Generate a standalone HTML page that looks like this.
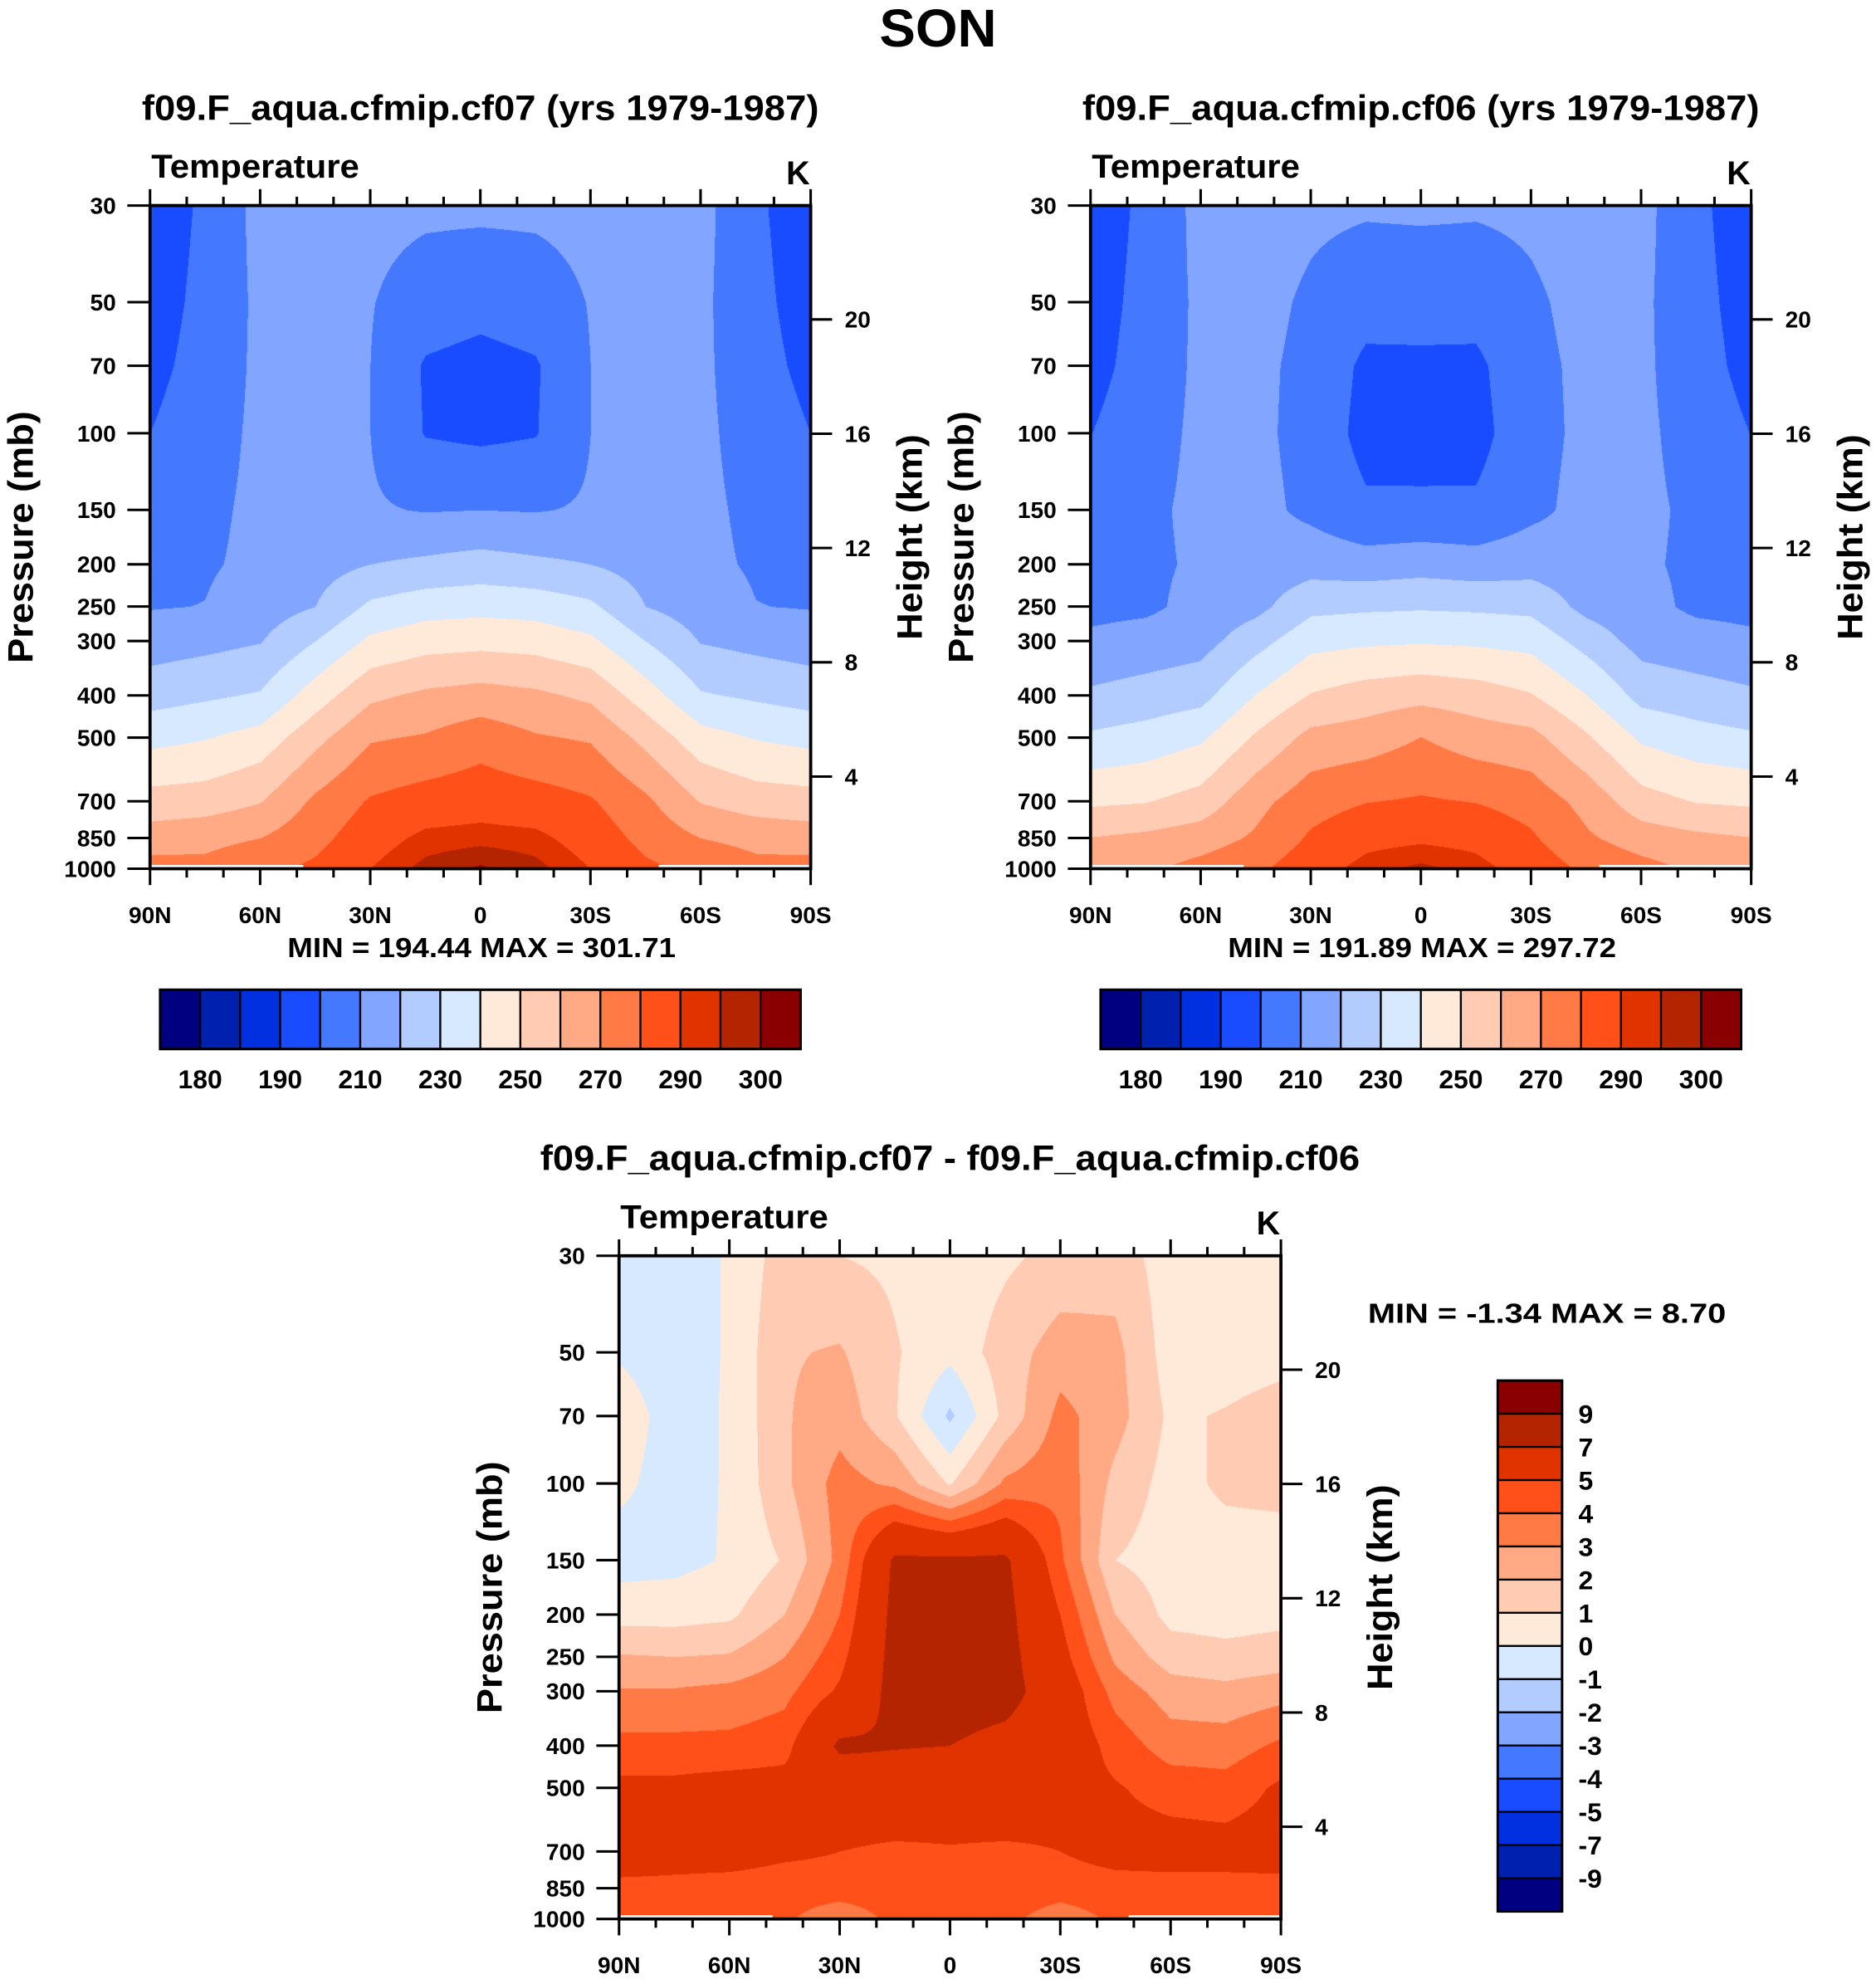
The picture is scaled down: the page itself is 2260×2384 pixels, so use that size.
<!DOCTYPE html>
<html><head><meta charset="utf-8">
<style>
html,body{margin:0;padding:0;background:#fff;}
#wrap{position:relative;width:2260px;height:2384px;overflow:hidden;}
svg{position:absolute;left:0;top:0;}
canvas{position:absolute;}
text{font-family:"Liberation Sans",sans-serif;font-weight:bold;fill:#000;}
</style></head>
<body>
<div id="wrap">
<canvas id="c1"></canvas>
<canvas id="c2"></canvas>
<canvas id="c3"></canvas>
<svg id="svg" width="2260" height="2384" viewBox="0 0 1488 1569.6"></svg>
</div>
<script>
// ---- data ----
const lats = [90,75,60,45,30,15,0,-15,-30,-45,-60,-75,-90];
const pressures = [30,50,70,100,150,200,250,300,400,500,700,850,1000];
const palette = ['#000080','#0020b0','#0030e0','#1a4cff','#4478ff','#82a6ff','#b3ccff','#d6e9ff','#ffeada','#ffcbb2','#ffa985','#ff7a45','#ff5019','#e03300','#b52400','#8a0000'];
const tempLevels = [180,185,190,200,210,220,230,240,250,260,270,280,290,295,300];
const tempLabels = ['180','190','210','230','250','270','290','300'];
const diffLevels = [-9,-7,-5,-4,-3,-2,-1,0,1,2,3,4,5,7,9];
const diffLabels = ['9','7','5','4','3','2','1','0','-1','-2','-3','-4','-5','-7','-9'];
const latTickLabels = ['90N','60N','30N','0','30S','60S','90S'];
const pTickLabels = [30,50,70,100,150,200,250,300,400,500,700,850,1000];
const hTickLabels = [4,8,12,16,20];
// rows: one per latitude (90N..90S), values per pressure level (30..1000 mb)
const tempCf07 = [
[193,195,197,200,204,207,209.5,215,226,237,254,265,274],
[202,203,204,206,208,209,210.2,217,228.5,239.5,255,267,273],
[213,212,212,212,212,212,215,219.5,231,244,259.5,270,278],
[216,215,214,214,214,216,220,230,245,257,272,277,282],
[213,210.5,210,210,211,220,232,242,258,269,281,286,290],
[212,205,199,199.5,209.5,222,236,246,262,271,284.5,292,297],
[212,203,197,198,210,224,237,247,264,276,286,293,301],
[212,205,199,199.5,209.5,222,236,246,262,271,284.5,292,297],
[213,210.5,210,210,211,220,232,242,258,269,281,286,290],
[216,215,214,214,214,216,220,230,245,257,272,277,282],
[213,212,212,212,212,212,215,219.5,231,244,259.5,270,278],
[202,203,204,206,208,209,210.2,217,228.5,239.5,255,267,273],
[193,195,197,200,204,207,209.5,215,226,237,254,265,274]];
const tempCf06 = [
[193.5,195.1,196.5,199.8,204.4,206.4,207.4,211.9,221.7,231.7,248.3,260.3,269.5],
[202.5,203.5,204.4,206.4,208.3,208.4,208.2,213.9,224.2,234.2,249.5,262.3,268.5],
[212.9,211.9,211.9,211.9,211.9,211.2,212.9,216.2,226.7,238.5,254,265.4,273.5],
[214.5,213.1,212.1,212.2,212.9,214,217,226.3,240.4,251.5,266.8,271.5,278.1],
[212,208.4,207.4,206.6,207.7,216,227.4,236.8,250.7,263.2,276,281.4,286.3],
[211.2,203.9,197.9,196.7,201.6,214.5,228.4,238.4,254.9,265,279.7,287.4,292.7],
[211.7,203.5,198.3,196.3,201.7,216,229,239.2,257,270.2,281.1,288.5,296.6],
[211.2,203.9,197.9,196.7,201.6,214.5,228.4,238.4,254.9,265,279.7,287.4,292.7],
[212,208.4,207.4,206.6,207.7,216,227.4,236.8,250.7,263.2,276,281.4,286.3],
[214.5,213.1,212.1,212.2,212.9,214,217,226.3,240.4,251.5,266.8,271.5,278.1],
[212.9,211.9,211.9,211.9,211.9,211.2,212.9,216.2,226.7,238.5,254,265.4,273.5],
[202.5,203.5,204.4,206.4,208.3,208.4,208.2,213.9,224.2,234.2,249.5,262.3,268.5],
[193.5,195.1,196.5,199.8,204.4,206.4,207.4,211.9,221.7,231.7,248.3,260.3,269.5]];
const tempDiff = [
[-0.5,-0.1,0.5,0.2,-0.4,0.6,2.1,3.1,4.3,5.3,5.7,4.7,4.5],
[-0.5,-0.5,-0.4,-0.4,-0.3,0.6,2,3.1,4.3,5.3,5.5,4.7,4.5],
[0.1,0.1,0.1,0.1,0.1,0.8,2.1,3.3,4.3,5.5,5.5,4.6,4.5],
[1.5,1.9,1.9,1.8,1.1,2.0,3.0,3.7,4.6,5.5,5.2,4.5,4.2],
[1.0,2.1,2.6,3.4,3.3,4.0,4.6,5.2,7.3,5.8,5.0,4.6,3.2],
[0.8,1.1,1.1,2.8,7.3,7.5,7.6,7.6,7.1,6.0,4.8,4.6,4.3],
[0.3,0.3,-1.2,0.9,7.3,8.0,8.0,7.8,7.0,5.8,4.9,4.5,4.4],
[0.8,1.5,1.3,3.2,7.3,7.5,7.6,7.6,6.5,6.0,4.8,4.6,4.3],
[1.3,2.5,3.3,3.7,4.2,5.0,5.5,6.0,6.0,5.5,5.0,4.5,3.4],
[1.5,2.3,2.4,1.7,1.0,2.0,2.8,3.6,4.6,5.1,5.4,4.6,4.2],
[0.5,0.5,0.8,0.6,0.5,0.7,1.5,2.5,3.5,4.6,5.5,4.6,4.5],
[0.3,0.4,1.1,1.2,0.5,0.6,1.3,2.3,3.5,4.4,5.5,4.6,4.5],
[0.3,0.6,1.5,1.3,0.5,0.7,1.5,2.6,4.2,5.2,5.6,4.6,4.5]];

// ---- layout (viewBox units) ----
const S = 2260/1488;
const NS='http://www.w3.org/2000/svg';
const svg=document.getElementById('svg');
function el(tag,attrs,parent){const e=document.createElementNS(NS,tag);for(const k in attrs)e.setAttribute(k,attrs[k]);(parent||svg).appendChild(e);return e;}
function txt(str,attrs,parent){const t=el('text',attrs,parent);t.textContent=str;return t;}

function yOfP(p,top,h){return top+h*Math.log10(p/30)/Math.log10(1000/30);}
function xOfLat(lat,left,w){return left+w*(90-lat)/180;}
function colorIdx(v,levels){let i=0;while(i<levels.length&&v>=levels[i])i++;return i;}

function fillCanvas(id,grid,levels,left,top,w,h){
  const c=document.getElementById(id);
  const X=Math.round(left*S),Y=Math.round(top*S),W=Math.round(w*S),H=Math.round(h*S);
  c.style.left=X+'px';c.style.top=Y+'px';c.width=W;c.height=H;
  const ctx=c.getContext('2d');const img=ctx.createImageData(W,H);
  const rgb=palette.map(h=>[parseInt(h.substr(1,2),16),parseInt(h.substr(3,2),16),parseInt(h.substr(5,2),16)]);
  const lp=pressures.map(p=>Math.log10(p));
  const L=Math.log10(1000/30);
  for(let py=0;py<H;py++){
    const lg=Math.log10(30)+L*(py+0.5)/H;
    let j=0;while(j<lp.length-2&&lg>lp[j+1])j++;
    const fy=Math.min(1,Math.max(0,(lg-lp[j])/(lp[j+1]-lp[j])));
    for(let px=0;px<W;px++){
      const lat=90-180*(px+0.5)/W;
      const fi=(90-lat)/15;let i=Math.min(lats.length-2,Math.floor(fi));const fx=fi-i;
      const v=(grid[i][j]*(1-fx)+grid[i+1][j]*fx)*(1-fy)+(grid[i][j+1]*(1-fx)+grid[i+1][j+1]*fx)*fy;
      const col=rgb[colorIdx(v,levels)];
      const o=(py*W+px)*4;img.data[o]=col[0];img.data[o+1]=col[1];img.data[o+2]=col[2];img.data[o+3]=255;
    }
  }
  ctx.putImageData(img,0,0);
}

function hToP(hkm){return 1124*Math.exp(-hkm/6.62);}

function drawPanel(opt){
  const g=el('g',{});
  const {left,top,w,h}=opt;
  txt(opt.title,{x:left+w/2,y:top-68,'text-anchor':'middle','font-size':28,textLength:opt.tl,lengthAdjust:'spacingAndGlyphs',},g);
  txt('Temperature',{x:left+1,y:top-22,'font-size':26,textLength:165,lengthAdjust:'spacingAndGlyphs',},g);
  txt('K',{x:left+w-10,y:top-17,'font-size':26,'text-anchor':'middle',},g);
  el('rect',{x:left+1,y:top+h-3,width:w*0.23,height:2,fill:'#fff'},g);
  el('rect',{x:left+w*0.77,y:top+h-3,width:w*0.23-1,height:2,fill:'#fff'},g);
  el('rect',{x:left,y:top,width:w,height:h,fill:'none',stroke:'#000','stroke-width':2.5,},g);
  for(let lat=90;lat>=-90;lat-=10){
    const x=xOfLat(lat,left,w);const major=lat%30===0;const L=major?13:7;
    el('line',{x1:x,y1:top,x2:x,y2:top-L,stroke:'#000','stroke-width':2},g);
    el('line',{x1:x,y1:top+h,x2:x,y2:top+h+L,stroke:'#000','stroke-width':2},g);
  }
  latTickLabels.forEach((s,k)=>{
    txt(s,{x:xOfLat(90-30*k,left,w),y:top+h+43,'text-anchor':'middle','font-size':18.5,},g);
  });
  pTickLabels.forEach(p=>{
    const y=yOfP(p,top,h);
    el('line',{x1:left-18,y1:y,x2:left,y2:y,stroke:'#000','stroke-width':2},g);
    txt(String(p),{x:left-27,y:y+6.5,'text-anchor':'end','font-size':18.5,},g);
  });
  hTickLabels.forEach(hk=>{
    const y=yOfP(hToP(hk),top,h);
    el('line',{x1:left+w,y1:y,x2:left+w+17,y2:y,stroke:'#000','stroke-width':2},g);
    txt(String(hk),{x:left+w+27,y:y+6.5,'font-size':18.5,},g);
  });
  const yc=top+h/2;
  txt('Pressure (mb)',{x:0,y:0,transform:`translate(${left-93},${yc}) rotate(-90)`,'text-anchor':'middle','font-size':28,textLength:200,lengthAdjust:'spacingAndGlyphs',},g);
  txt('Height (km)',{x:0,y:0,transform:`translate(${left+w+88},${yc}) rotate(-90)`,'text-anchor':'middle','font-size':28,textLength:163,lengthAdjust:'spacingAndGlyphs',},g);
  return g;
}

txt('SON',{x:744,y:37,'text-anchor':'middle','font-size':42,textLength:93,lengthAdjust:'spacingAndGlyphs',});

const p1={left:119,top:163,w:524,h:526},p2={left:865,top:163,w:524,h:526},p3={left:491,top:996,w:525,h:526};
fillCanvas('c1',tempCf07,tempLevels,p1.left,p1.top,p1.w,p1.h);
fillCanvas('c2',tempCf06,tempLevels,p2.left,p2.top,p2.w,p2.h);
fillCanvas('c3',tempDiff,diffLevels,p3.left,p3.top,p3.w,p3.h);

drawPanel(Object.assign({name:'panel-cf07',title:'f09.F_aqua.cfmip.cf07 (yrs 1979-1987)',tl:537},p1));
drawPanel(Object.assign({name:'panel-cf06',title:'f09.F_aqua.cfmip.cf06 (yrs 1979-1987)',tl:537},p2));
drawPanel(Object.assign({name:'panel-difference',title:'f09.F_aqua.cfmip.cf07 - f09.F_aqua.cfmip.cf06',tl:650},p3));

txt('MIN = 194.44  MAX = 301.71',{x:382,y:759,'text-anchor':'middle','font-size':22,textLength:308,lengthAdjust:'spacingAndGlyphs','xml:space':'preserve',});
txt('MIN = 191.89  MAX = 297.72',{x:1128,y:759,'text-anchor':'middle','font-size':22,textLength:308,lengthAdjust:'spacingAndGlyphs','xml:space':'preserve',});
txt('MIN =  -1.34  MAX =   8.70',{x:1085,y:1049,'font-size':22,textLength:284,lengthAdjust:'spacingAndGlyphs','xml:space':'preserve',});

function hColorbar(x0,name){
  const g=el('g',{});
  const w=508,y0=785,h=47,bw=w/16;
  palette.forEach((c,i)=>{const r=el('rect',{x:x0+i*bw,y:y0,width:bw,height:h,fill:c,stroke:'#000','stroke-width':1.5},g);});
  el('rect',{x:x0,y:y0,width:w,height:h,fill:'none',stroke:'#000','stroke-width':2},g);
  tempLabels.forEach((s,k)=>{txt(s,{x:x0+(1+2*k)*bw,y:863,'text-anchor':'middle','font-size':21,},g);});
}
hColorbar(127,'colorbar-cf07');
hColorbar(873,'colorbar-cf06');
(function(){
  const g=el('g',{});
  const x0=1188,y0=1095,w=51,h=421,bh=h/16;
  palette.slice().reverse().forEach((c,i)=>{const r=el('rect',{x:x0,y:y0+i*bh,width:w,height:bh,fill:c,stroke:'#000','stroke-width':1.5},g);});
  el('rect',{x:x0,y:y0,width:w,height:h,fill:'none',stroke:'#000','stroke-width':2},g);
  diffLabels.forEach((s,k)=>{txt(s,{x:x0+w+13,y:y0+(k+1)*bh+7.5,'font-size':21,},g);});
})();
</script>
</body></html>
